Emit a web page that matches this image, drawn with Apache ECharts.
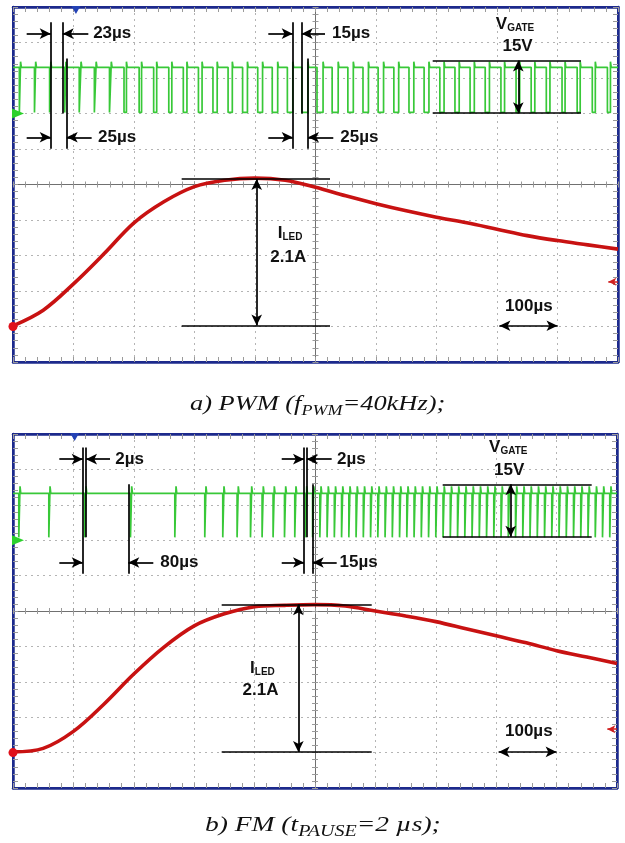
<!DOCTYPE html>
<html><head><meta charset="utf-8">
<script src="https://cdn.jsdelivr.net/npm/echarts@6/dist/echarts.min.js"></script>
<style>html,body{margin:0;padding:0;background:#fff;}#c{width:625px;height:843px;}</style>
</head><body><div id="c"></div>
<script>
// ---------------- DATA ----------------
const T_MAX = 1000;                 // µs, 10 divisions of 100 µs
// LED current (A), 0.5 A/div
const currentTimeA = [0,50,100,150,200,250,300,350,400,450,500,550,600,650,700,750,800,850,900,950,1000];
const currentA     = [0.01,0.23,0.60,1.02,1.46,1.76,1.97,2.06,2.09,2.06,1.96,1.84,1.73,1.63,1.54,1.46,1.37,1.28,1.21,1.15,1.09];
const currentTimeB = [0,50,100,150,200,250,300,350,400,450,500,550,600,650,700,750,800,850,900,950,1000];
const currentB     = [0.01,0.06,0.30,0.68,1.11,1.49,1.79,1.96,2.06,2.08,2.09,2.07,2.00,1.93,1.85,1.75,1.65,1.55,1.44,1.35,1.26];
// gate levels (V): low, high, overshoot
const gateLevelsA = [0.3, 13.0, 14.6];
const gateLevelsB = [0.8, 13.2, 15.2];
// PWM (a): rising-edge times (µs) and low time before each rise (µs)
const pwmRiseA = [12.5,37.5,62.5,87.5,112.5,137.5,162.5,187.5,212.5,237.5,262.5,287.5,312.5,337.5,362.5,387.5,412.5,437.5,462.5,487.5,512.5,537.5,562.5,587.5,612.5,637.5,662.5,687.5,712.5,737.5,762.5,787.5,812.5,837.5,862.5,887.5,912.5,937.5,962.5,987.5];
const pwmLowA  = [2,2,2,2,3,3,3,4,4,5,5,6,6,7,7,8,8,9,9,10,10,10,9,9,9,8,8,8,7,7,7,7,6,6,6,6,5,5,5,5];
// FM (b): rising-edge times (µs), pause 2 µs
const fmRiseB = [11.6,61.3,120.9,196.5,269.9,319.5,349.3,373,395.2,414.4,432.6,451.5,468.5,486.3,498,510,522,534,546,558,570,582,594,606,618,630,642,654,666,678,690,702,714,726,738,750,762,774,786,798,810,822,834,846,858,870,882,894,906,918,930,942,954,966,978,990];
const fmPauseB = 2;
// markers
const triggerTime = [104, 102];
const refArrowCurrent = [0.63, 0.33];
// captions
const captionA = ['a) PWM (f', 'PWM', '=40kHz);'];
const captionB = ['b) FM (t', 'PAUSE', '=2 µs);'];

// annotations (µs, V) and (µs, A)
const annA = {
  gateLines: [[62.3,25.7,62.3,-9.9],[82.1,25.7,82.1,0],[88.8,15.5,88.8,-9.9],[462.3,25.7,462.3,-9.9],[477.2,25.7,477.2,0],[487.6,15.5,487.6,-9.9],[693.7,14.9,938.8,14.9],[693.7,0.1,938.8,0.1]],
  gateArrows: [[22.6,22.5,62.3,22.5],[124.5,22.5,82.1,22.5],[22.6,-6.7,62.3,-6.7],[130,-6.7,88.8,-6.7],[422,22.5,462.3,22.5],[515.7,22.5,477.2,22.5],[422,-6.7,462.3,-6.7],[529.4,-6.7,487.6,-6.7]],
  gateDouble: [[835.2,0.1,835.2,14.9]],
  gateTexts: [['23µs',132,22.5],['25µs',140,-6.7],['15µs',526.8,22.5],['25µs',540.5,-6.7]],
  vgate: [829.8,25.3], v15: [834,18.7],
  curLines: [[278.8,2.076,524,2.076],[278.8,0.014,524,0.014]],
  curDouble: [[402.8,0.014,402.8,2.076],[804,0.01,900,0.01]],
  iled: [457.9,1.324], i21: [455,0.963], t100: [852.6,0.28]
};
const annB = {
  gateLines: [[115.4,26.2,115.4,-9.5],[120.9,26.2,120.9,0.8],[190.9,15.8,190.9,-9.5],[481.8,26.2,481.8,-9.5],[486.3,26.2,486.3,0.8],[496.2,15.8,496.2,-9.5],[711.4,15.8,958.1,15.8],[711.4,1.0,958.1,1.0]],
  gateArrows: [[76.7,22.9,115.4,22.9],[160.6,22.9,120.9,22.9],[76.7,-6.3,115.4,-6.3],[232.3,-6.3,190.9,-6.3],[444.9,22.9,481.8,22.9],[527.6,22.9,486.3,22.9],[444.9,-6.3,481.8,-6.3],[535.9,-6.3,496.2,-6.3]],
  gateDouble: [[824,1.0,824,15.8]],
  gateTexts: [['2µs',168.9,22.6],['80µs',243.4,-6.3],['2µs',535.9,22.6],['15µs',540.2,-6.3]],
  vgate: [820,26.4], v15: [821.5,19.6],
  curLines: [[345.5,2.095,593.9,2.095],[345.5,0.008,593.9,0.008]],
  curDouble: [[472.4,0.008,472.4,2.095],[804,0.01,900,0.01]],
  iled: [413,1.2], i21: [409.8,0.87], t100: [854,0.29]
};

// ---------------- BUILD ----------------
function buildPwm(rises, lows, lev) {
  const pts = [[0, lev[1]]];
  rises.forEach((r, i) => {
    const f = Math.max(0, r - lows[i]);
    pts.push([f, lev[1]], [f, lev[0]], [r, lev[0]], [r, lev[2]], [Math.min(T_MAX, r + 1.3), lev[1]]);
  });
  pts.push([T_MAX, lev[1]]);
  return pts;
}
function buildFm(rises, pause, lev) {
  return buildPwm(rises, rises.map(() => pause), lev);
}
function zipXY(xs, ys) { return xs.map((x, i) => [x, ys[i]]); }

const GRID_C = '#b4b4b4', TICK_C = '#9a9a9a', CENTER_C = '#707070', BORDER_C = '#1c2a8c';
const grids = [
  {left: 13, top: 7, width: 605, height: 355},
  {left: 13, top: 434, width: 604, height: 354}
];

const xAxis = [], yAxis = [];
grids.forEach((g, gi) => {
  const tk = (inside, len) => ({show: true, inside: inside, length: len, lineStyle: {color: TICK_C, width: 1}});
  const mt = (len) => ({show: true, splitNumber: 5, length: len, lineStyle: {color: TICK_C, width: 1}});
  const border = {show: true, onZero: false, lineStyle: {color: BORDER_C, width: 2.5}};
  const split = {show: true, showMinLine: false, showMaxLine: false, lineStyle: {color: GRID_C, type: [2, 4], width: 1}};
  const cx = {gridIndex: gi, type: 'value', min: 0, max: T_MAX, interval: 100, axisLabel: {show: false}};
  xAxis.push(
    Object.assign({}, cx, {position: 'bottom', axisLine: border, axisTick: tk(true, 5), minorTick: mt(5), splitLine: split}),
    Object.assign({}, cx, {position: 'top', axisLine: border, axisTick: tk(true, 5), minorTick: mt(5), splitLine: {show: false}}),
    Object.assign({}, cx, {position: 'bottom', offset: -g.height / 2, axisLine: {show: true, onZero: false, lineStyle: {color: CENTER_C, width: 1}},
      axisTick: tk(false, 3), minorTick: mt(3), splitLine: {show: false}}),
    Object.assign({}, cx, {position: 'bottom', offset: -g.height / 2, axisLine: {show: false, onZero: false},
      axisTick: tk(true, 3), minorTick: mt(3), splitLine: {show: false}})
  );
  const cy = {gridIndex: gi, type: 'value', min: -70, max: 30, interval: 10, axisLabel: {show: false}};
  yAxis.push(
    Object.assign({}, cy, {position: 'left', axisLine: border, axisTick: tk(true, 5), minorTick: mt(5), splitLine: split}),
    {gridIndex: gi, type: 'value', min: -0.5, max: 4.5, interval: 0.5, show: false, axisLine: {onZero: false}},
    Object.assign({}, cy, {position: 'right', axisLine: border, axisTick: tk(true, 5), minorTick: mt(5), splitLine: {show: false}}),
    Object.assign({}, cy, {position: 'left', offset: -g.width / 2, axisLine: {show: true, onZero: false, lineStyle: {color: CENTER_C, width: 1}},
      axisTick: tk(false, 3), minorTick: mt(3), splitLine: {show: false}}),
    Object.assign({}, cy, {position: 'left', offset: -g.width / 2, axisLine: {show: false, onZero: false},
      axisTick: tk(true, 3), minorTick: mt(3), splitLine: {show: false}})
  );
});

const FONT = 'Liberation Sans';
const textLabel = (txt, pos) => ({show: true, position: pos, distance: 0, formatter: txt, color: '#111',
  fontFamily: FONT, fontWeight: 'bold', fontSize: 17,
  rich: {b: {fontFamily: FONT, fontWeight: 'bold', fontSize: 17, color: '#111', verticalAlign: 'bottom', lineHeight: 20},
         s: {fontFamily: FONT, fontWeight: 'bold', fontSize: 10, color: '#111', verticalAlign: 'bottom', lineHeight: 20}}});
const pt = (xy, txt, pos) => ({coord: xy, value: 0, symbolSize: 1, itemStyle: {color: 'rgba(0,0,0,0)'}, label: textLabel(txt, pos)});
const seg = (a, s1, s2) => [{coord: [a[0], a[1]], symbol: s1}, {coord: [a[2], a[3]], symbol: s2}];

function annSeries(ann, gi) {
  const xi = gi * 4, yv = gi * 5, ya = gi * 5 + 1;
  const ml = (data) => ({silent: true, animation: false, symbolSize: [8, 11], label: {show: false},
    lineStyle: {color: '#000', width: 1.7, type: 'solid'}, emphasis: {disabled: true}, data: data});
  return [
    {type: 'line', xAxisIndex: xi, yAxisIndex: yv, data: [], silent: true, z: 5,
      markLine: ml([].concat(ann.gateLines.map(a => seg(a, 'none', 'none')),
                             ann.gateArrows.map(a => seg(a, 'none', 'arrow')),
                             ann.gateDouble.map(a => seg(a, 'arrow', 'arrow')))),
      markPoint: {silent: true, animation: false, data: [].concat(
        ann.gateTexts.map(t => pt([t[1], t[2]], t[0], 'right')),
        [pt(ann.vgate, '{b|V}{s|GATE}', 'inside'), pt(ann.v15, '15V', 'inside')])}},
    {type: 'line', xAxisIndex: xi, yAxisIndex: ya, data: [], silent: true, z: 5,
      markLine: ml([].concat(ann.curLines.map(a => seg(a, 'none', 'none')),
                             ann.curDouble.map(a => seg(a, 'arrow', 'arrow')))),
      markPoint: {silent: true, animation: false, data: [
        pt(ann.iled, '{b|I}{s|LED}', 'inside'), pt(ann.i21, '2.1A', 'inside'), pt(ann.t100, '100µs', 'inside')]}}
  ];
}

function traceSeries(gi, gate, levels, curT, cur) {
  const xi = gi * 4, yv = gi * 5, ya = gi * 5 + 1;
  return [
    {type: 'line', xAxisIndex: xi, yAxisIndex: yv, data: gate, showSymbol: false, silent: true, z: 3,
      lineStyle: {color: '#38c838', width: 1.7}, animation: false,
      markPoint: {silent: true, animation: false, data: [
        {coord: [0, 0], symbol: 'triangle', symbolSize: [10, 12], symbolRotate: -90, symbolOffset: [5, 0], itemStyle: {color: '#2bd12b'}},
        {coord: [triggerTime[gi], 30], symbol: 'triangle', symbolSize: [9, 8], symbolRotate: 180, symbolOffset: [0, 3], itemStyle: {color: '#2342b5'}}
      ]}},
    {type: 'line', xAxisIndex: xi, yAxisIndex: ya, data: zipXY(curT, cur), smooth: 0.35, showSymbol: false, silent: true, z: 4,
      lineStyle: {color: '#c81212', width: 3.6}, animation: false,
      markPoint: {silent: true, animation: false, data: [
        {coord: [0, 0], symbol: 'circle', symbolSize: 9, itemStyle: {color: '#e0101a'}}]},
      markLine: {silent: true, animation: false, symbolSize: [6, 8], label: {show: false}, lineStyle: {color: '#d02020', width: 1.5, type: 'solid'},
        data: [[{coord: [984, refArrowCurrent[gi]], symbol: 'arrow'}, {coord: [1000, refArrowCurrent[gi]], symbol: 'none'}]]}}
  ];
}

const series = [].concat(
  traceSeries(0, buildPwm(pwmRiseA, pwmLowA, gateLevelsA), gateLevelsA, currentTimeA, currentA),
  traceSeries(1, buildFm(fmRiseB, fmPauseB, gateLevelsB), gateLevelsB, currentTimeB, currentB),
  annSeries(annA, 0), annSeries(annB, 1)
);

const SERIF = 'Liberation Serif';
function captionText(parts, x, y, sx, subSize) {
  return {type: 'text', x: x, y: y, scaleX: sx, silent: true,
    style: {text: '{n|' + parts[0] + '}{s|' + parts[1] + '}{n|' + parts[2] + '}', fill: '#111',
      align: 'left', verticalAlign: 'middle', font: 'italic 22px "' + SERIF + '"',
      rich: {n: {fontFamily: SERIF, fontStyle: 'italic', fontSize: 22, fill: '#111', verticalAlign: 'bottom', lineHeight: 26},
             s: {fontFamily: SERIF, fontStyle: 'italic', fontSize: subSize, fill: '#111', verticalAlign: 'bottom', lineHeight: 26, padding: [0, 0, -4, 0]}}}};
}

const option = {
  backgroundColor: '#fff',
  animation: false,
  grid: grids.map(g => Object.assign({show: true, borderColor: BORDER_C, borderWidth: 2, backgroundColor: '#fff', containLabel: false}, g)),
  xAxis: xAxis, yAxis: yAxis, series: series,
  graphic: [captionText(captionA, 190, 402, 1.2, 15), captionText(captionB, 205, 823, 1.25, 16)]
};
const chart = echarts.init(document.getElementById('c'), null, {renderer: 'canvas', width: 625, height: 843});
chart.setOption(option);
</script></body></html>
